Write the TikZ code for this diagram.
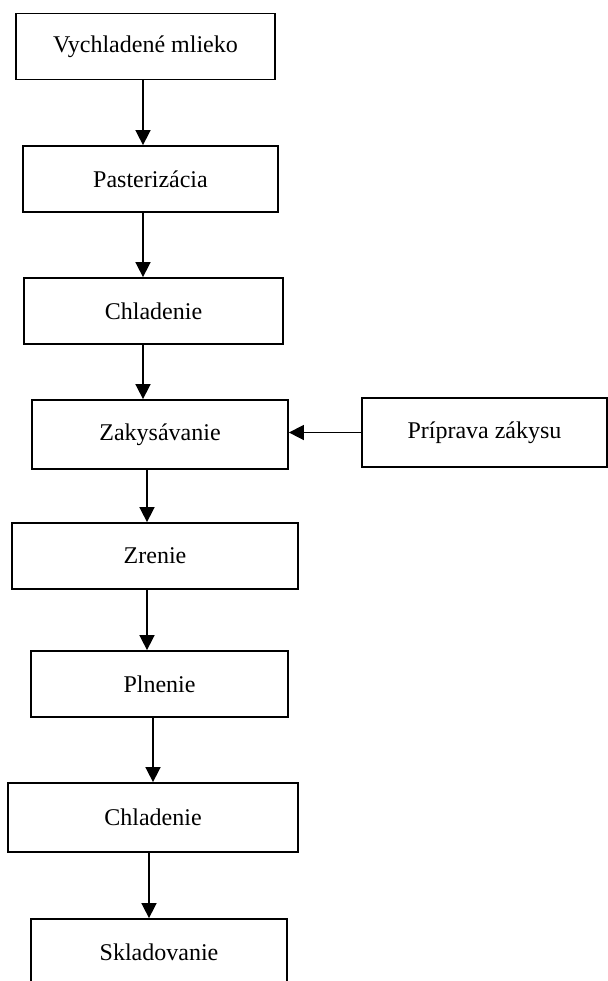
\documentclass[tikz,border=0pt]{standalone}
\usepackage{fontspec}
\setmainfont{Liberation Serif}
\usepackage{tikz}
\usetikzlibrary{arrows.meta,positioning}

\begin{document}
\begin{tikzpicture}[
    x=0.5pt, y=-0.5pt,
    block/.style={draw, line width=0.9pt, inner sep=0pt, minimum height=33pt, align=center, font=\fontsize{12}{14}\selectfont},
    arrow/.style={-{Triangle[width=7.5pt, length=7.5pt]}, line width=0.8pt}
]
    \useasboundingbox (0,0) rectangle (608,981);
    \clip (0,0) rectangle (608,981);

    % Blocks
    \node[block, minimum width=129.5pt] (mlieko) at (145.5,46.5) {Vychladené mlieko};
    \node[block, minimum width=127.5pt] (paster) at (150.5,179) {Pasterizácia};
    \node[block, minimum width=129.5pt] (chlad1) at (153.5,311) {Chladenie};
    \node[block, minimum width=128pt, minimum height=34.5pt] (zakys) at (160,434.5) {Zakysávanie};
    \node[block, minimum width=122.5pt, minimum height=34.5pt] (priprava) at (484.5,432.5) {Príprava zákysu};
    \node[block, minimum width=143pt] (zrenie) at (155,556) {Zrenie};
    \node[block, minimum width=128.5pt] (plnenie) at (159.5,684) {Plnenie};
    \node[block, minimum width=145pt, minimum height=34.5pt] (chlad2) at (153,817.5) {Chladenie};
    \node[block, minimum width=128pt] (sklad) at (159,952) {Skladovanie};

    % Flow arrows
    \draw[arrow] ([xshift=-1.25pt]mlieko.south) -- ([xshift=-3.75pt]paster.north);
    \draw[arrow] ([xshift=-3.75pt]paster.south) -- ([xshift=-5.25pt]chlad1.north);
    \draw[arrow] ([xshift=-5.25pt]chlad1.south) -- ([xshift=-8.5pt]zakys.north);
    \draw[arrow] ([xshift=-6.5pt]zakys.south) -- ([xshift=-4pt]zrenie.north);
    \draw[arrow] ([xshift=-4pt]zrenie.south) -- ([xshift=-6.25pt]plnenie.north);
    \draw[arrow] ([xshift=-3.25pt]plnenie.south) -- (chlad2.north);
    \draw[arrow] ([xshift=-2pt]chlad2.south) -- ([xshift=-5pt]sklad.north);

    % Side input
    \draw[arrow] (priprava.west) -- (priprava.west -| zakys.east);
\end{tikzpicture}
\end{document}
